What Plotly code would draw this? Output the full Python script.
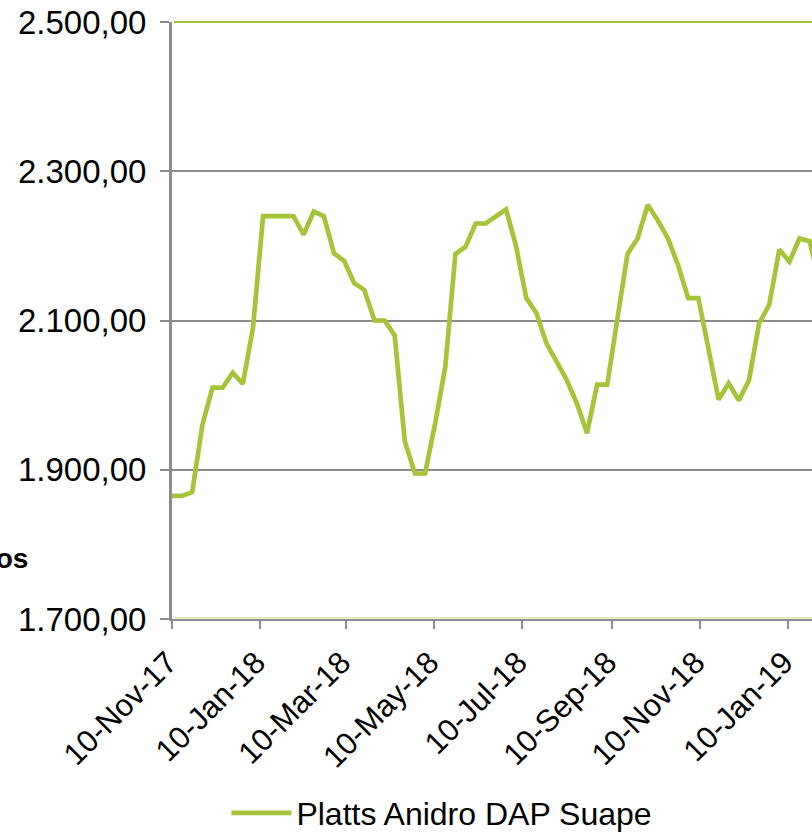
import pandas as pd
import plotly.graph_objects as go

series_name = "Platts Anidro DAP Suape"
start_date = "2017-11-10"
prices = [
    1865, 1865, 1870, 1960, 2010, 2010, 2030, 2015, 2090, 2240,
    2240, 2240, 2240, 2215, 2246, 2240, 2190, 2180, 2150, 2141,
    2100, 2100, 2080, 1938, 1895, 1895, 1962, 2038, 2189, 2199,
    2230, 2230, 2240, 2249, 2199, 2130, 2110, 2069, 2045, 2020,
    1989, 1949, 2014, 2014, 2102, 2189, 2210, 2255, 2234, 2210,
    2174, 2130, 2130, 2062, 1994, 2016, 1993, 2020, 2096, 2121,
    2195, 2179, 2210, 2206, 2150,
]
dates = pd.date_range(start_date, periods=len(prices), freq="7D")

tick_dates = ["2017-11-10", "2018-01-10", "2018-03-10", "2018-05-10",
              "2018-07-10", "2018-09-10", "2018-11-10", "2019-01-10"]
tick_labels = ["10-Nov-17", "10-Jan-18", "10-Mar-18", "10-May-18",
               "10-Jul-18", "10-Sep-18", "10-Nov-18", "10-Jan-19"]
y_ticks = [1700, 1900, 2100, 2300, 2500]

GREEN = "#a5c43a"
GREY = "#8c8c8c"
FONT = "Liberation Sans, Arial, sans-serif"

fig = go.Figure()
fig.add_trace(go.Scatter(
    x=dates, y=prices, mode="lines", name=series_name,
    line=dict(color=GREEN, width=4.7),
))

fig.update_layout(
    width=812, height=832,
    margin=dict(l=172, r=0, t=22, b=213, autoexpand=False),
    paper_bgcolor="white", plot_bgcolor="white",
    separators=",.",
    font=dict(family=FONT, size=31, color="black"),
    showlegend=True,
    legend=dict(
        orientation="h", x=0.085, xanchor="left", y=-0.325, yanchor="middle",
        font=dict(size=32, family=FONT, color="black"),
        itemwidth=60, bgcolor="rgba(0,0,0,0)",
    ),
    xaxis=dict(
        type="date", range=["2017-11-10", "2019-01-26 14:24"],
        tickvals=tick_dates, ticktext=tick_labels, tickangle=-45,
        ticks="outside", ticklen=8, tickwidth=2, tickcolor=GREY,
        ticklabelshift=-4, ticklabelstandoff=3,
        showline=True, linecolor=GREY, linewidth=2,
        showgrid=False, zeroline=False,
        tickfont=dict(size=31, family=FONT, color="black"),
    ),
    yaxis=dict(
        range=[1700, 2500], tickvals=y_ticks, tickformat=",.2f",
        ticks="outside", ticklen=9, tickwidth=2, tickcolor=GREY,
        ticklabelstandoff=7,
        showline=True, linecolor=GREY, linewidth=3,
        showgrid=True, gridcolor=GREY, gridwidth=2, zeroline=False,
        tickfont=dict(size=33, family=FONT, color="black"),
    ),
    shapes=[
        dict(type="line", xref="paper", yref="paper", x0=0.003, x1=1, y0=1, y1=1,
             line=dict(color=GREEN, width=2), layer="above"),
        dict(type="line", xref="paper", yref="paper", x0=0.003, x1=1, y0=0.002, y1=0.002,
             line=dict(color="#c8dc8c", width=1), layer="above"),
    ],
    annotations=[
        dict(text="<b>Preços</b>", xref="paper", yref="paper",
             x=-0.2219, y=0.102, xanchor="right", yanchor="middle",
             showarrow=False, font=dict(size=28, family=FONT, color="black")),
    ],
)

fig.write_html("out.html", config={"displayModeBar": False},
               post_script="document.body.style.margin='0px';")
